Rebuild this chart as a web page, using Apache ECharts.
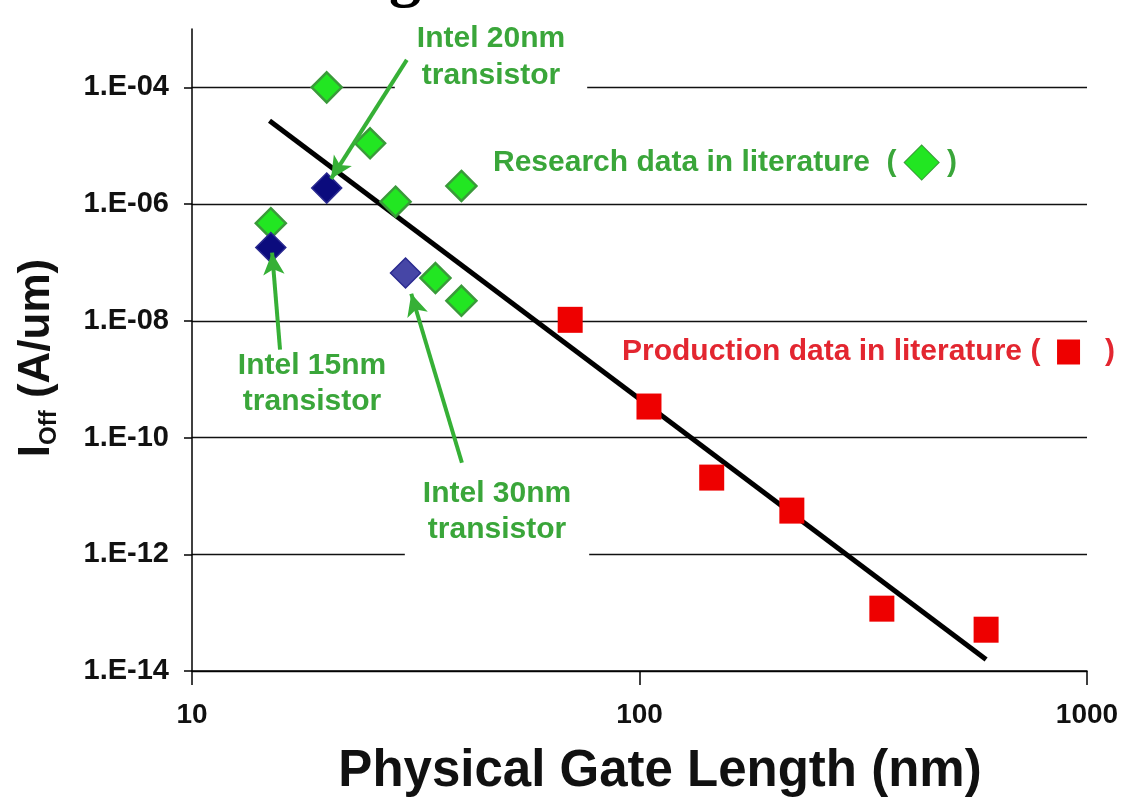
<!DOCTYPE html>
<html>
<head>
<meta charset="utf-8">
<script src="https://cdn.jsdelivr.net/npm/echarts@6/dist/echarts.min.js"></script>
<style>
html,body{margin:0;padding:0;background:#fff;}
#chart{width:1144px;height:799px;}
</style>
</head>
<body>
<div id="chart"></div>
<script>
// ---- data ----
const researchGateLength = [20, 25, 28.5, 40, 15, 35, 40];
const researchIoff = [1e-4, 1.1e-5, 1.1e-6, 2.05e-6, 4.7e-7, 5.4e-8, 2.2e-8];

const intelGateLength = [20, 15, 30];
const intelIoff = [1.88e-6, 1.8e-7, 6.6e-8];
const intelLabels = ['Intel 20nm', 'Intel 15nm', 'Intel 30nm'];

const productionGateLength = [70, 105, 145, 219, 348, 595];
const productionIoff = [1.04e-8, 3.4e-10, 2.06e-11, 5.6e-12, 1.17e-13, 5.1e-14];

const trendGateLength = [14.9, 595];
const trendIoff = [2.67e-5, 1.57e-14];

// annotation arrows (tail -> tip), in data units
const arrowTailGateLength = [30.2, 15.73, 40.1];
const arrowTailIoff = [2.96e-4, 3.2e-9, 3.7e-11];
const arrowTipGateLength = [20.45, 15.1, 30.9];
const arrowTipIoff = [2.71e-6, 1.47e-7, 2.91e-8];

const xTickValues = [10, 100, 1000];
const yTickValues = [1e-14, 1e-12, 1e-10, 1e-8, 1e-6, 1e-4];

// ---- styles ----
const FONT = '"Liberation Sans", Arial, sans-serif';
const GREEN_TEXT = '#3aa63a';
const RED_TEXT = '#e32630';
const intelColors = ['#0b0b7d', '#0b0b7d', '#4646a6'];

const pairs = (xs, ys) => xs.map((x, i) => [x, ys[i]]);

const chart = echarts.init(document.getElementById('chart'), null, {renderer: 'canvas'});

const option = {
  animation: false,
  backgroundColor: '#ffffff',
  grid: {left: 192, right: 57, top: 29, bottom: 128},
  xAxis: {
    type: 'log', logBase: 10, min: 10, max: 1000,
    axisLine: {show: true, onZero: false, lineStyle: {color: '#000', width: 1.5}},
    axisTick: {show: true, length: 14, customValues: xTickValues, lineStyle: {color: '#000', width: 1.5}},
    axisLabel: {
      customValues: xTickValues, margin: 30,
      formatter: v => String(Math.round(v)),
      fontFamily: FONT, fontSize: 28, fontWeight: 'bold', color: '#111'
    },
    splitLine: {show: false}
  },
  yAxis: {
    type: 'log', logBase: 10, min: 1e-14, max: 1e-3,
    axisLine: {show: true, onZero: false, lineStyle: {color: '#000', width: 1.5}},
    axisTick: {show: true, length: 8, customValues: yTickValues, lineStyle: {color: '#000', width: 1.5}},
    axisLabel: {
      customValues: yTickValues, margin: 23,
      formatter: v => {
        const e = Math.round(Math.log10(v));
        const a = Math.abs(e);
        return '1.E' + (e < 0 ? '-' : '+') + (a < 10 ? '0' + a : a);
      },
      fontFamily: FONT, fontSize: 29, fontWeight: 'bold', color: '#111'
    },
    splitLine: {show: true, lineStyle: {color: '#111', width: 1.4}}
  },
  series: [
    {
      name: 'Trend', type: 'line', z: 3,
      data: pairs(trendGateLength, trendIoff),
      showSymbol: false, symbol: 'none',
      lineStyle: {color: '#000', width: 5}
    },
    {
      name: 'Research data in literature', type: 'scatter', z: 4,
      symbol: 'diamond', symbolSize: 30,
      data: pairs(researchGateLength, researchIoff),
      itemStyle: {color: '#22e622', borderColor: '#3a9a3a', borderWidth: 2.5, opacity: 1}
    },
    {
      name: 'Intel transistors', type: 'scatter', z: 4,
      symbol: 'diamond', symbolSize: 30,
      data: pairs(intelGateLength, intelIoff),
      itemStyle: {
        color: p => intelColors[p.dataIndex],
        borderColor: '#2a2a90', borderWidth: 1.5, opacity: 1
      }
    },
    {
      name: 'Production data in literature', type: 'scatter', z: 4,
      symbol: 'rect', symbolSize: [25, 26],
      data: pairs(productionGateLength, productionIoff),
      itemStyle: {color: '#ee0000', opacity: 1}
    },
    {
      name: 'Arrows', type: 'scatter', z: 6, data: [],
      markLine: {
        silent: true, z: 6,
        symbol: ['none', 'arrow'], symbolSize: [16, 22],
        lineStyle: {color: '#36b036', width: 4, type: 'solid', opacity: 1},
        label: {show: false},
        emphasis: {disabled: true},
        data: arrowTailGateLength.map((x, i) => [
          {coord: [x, arrowTailIoff[i]]},
          {coord: [arrowTipGateLength[i], arrowTipIoff[i]]}
        ])
      }
    }
  ],
  graphic: [
    {
      type: 'text', x: 405, y: 9, z: 1,
      style: {text: 'g', font: 'bold 64px "Liberation Serif", serif', fill: '#000', align: 'center', verticalAlign: 'bottom'}
    },
    {
      type: 'text', x: 491, y: 17, z: 1,
      style: {
        text: 'Intel 20nm\ntransistor',
        font: 'bold 30px ' + FONT, fill: GREEN_TEXT,
        align: 'center', verticalAlign: 'top', lineHeight: 37,
        backgroundColor: '#ffffff', padding: [3, 22, 16, 22]
      }
    },
    {
      type: 'text', x: 493, y: 163, z: 1,
      style: {
        text: '{t|Research data in literature  ( }{d|\u25C6}{t| )}',
        align: 'left', verticalAlign: 'middle',
        rich: {
          t: {font: 'bold 30px ' + FONT, fill: GREEN_TEXT},
          d: {font: '44px "DejaVu Sans", sans-serif', fill: '#22e622', stroke: '#3a9a3a', lineWidth: 2, lineHeight: 40}
        }
      }
    },
    {
      type: 'text', x: 622, y: 352, z: 1,
      style: {
        text: '{t|Production data in literature (  }{s| }{t|   )}',
        align: 'left', verticalAlign: 'middle',
        rich: {
          t: {font: 'bold 30px ' + FONT, fill: RED_TEXT},
          s: {width: 23, height: 25, backgroundColor: '#ee0000', fontSize: 12}
        }
      }
    },
    {
      type: 'text', x: 312, y: 348, z: 1,
      style: {
        text: 'Intel 15nm\ntransistor',
        font: 'bold 30px ' + FONT, fill: GREEN_TEXT,
        align: 'center', verticalAlign: 'top', lineHeight: 36
      }
    },
    {
      type: 'text', x: 497, y: 472, z: 1,
      style: {
        text: 'Intel 30nm\ntransistor',
        font: 'bold 30px ' + FONT, fill: GREEN_TEXT,
        align: 'center', verticalAlign: 'top', lineHeight: 36,
        backgroundColor: '#ffffff', padding: [4, 18, 30, 18]
      }
    },
    {
      type: 'text', x: 660, y: 772, z: 1,
      style: {
        text: 'Physical Gate Length (nm)',
        font: 'bold 51px ' + FONT, fill: '#111',
        align: 'center', verticalAlign: 'middle'
      }
    },
    {
      type: 'text', x: 37, y: 358, z: 1, rotation: Math.PI / 2,
      style: {
        text: '{i|I}{s|Off}{i| (A/um)}',
        align: 'center', verticalAlign: 'middle',
        rich: {
          i: {font: 'bold 44px ' + FONT, fill: '#111', lineHeight: 48},
          s: {font: 'bold 24px ' + FONT, fill: '#111', lineHeight: 26, verticalAlign: 'bottom'}
        }
      }
    }
  ]
};

chart.setOption(option);
</script>
</body>
</html>
